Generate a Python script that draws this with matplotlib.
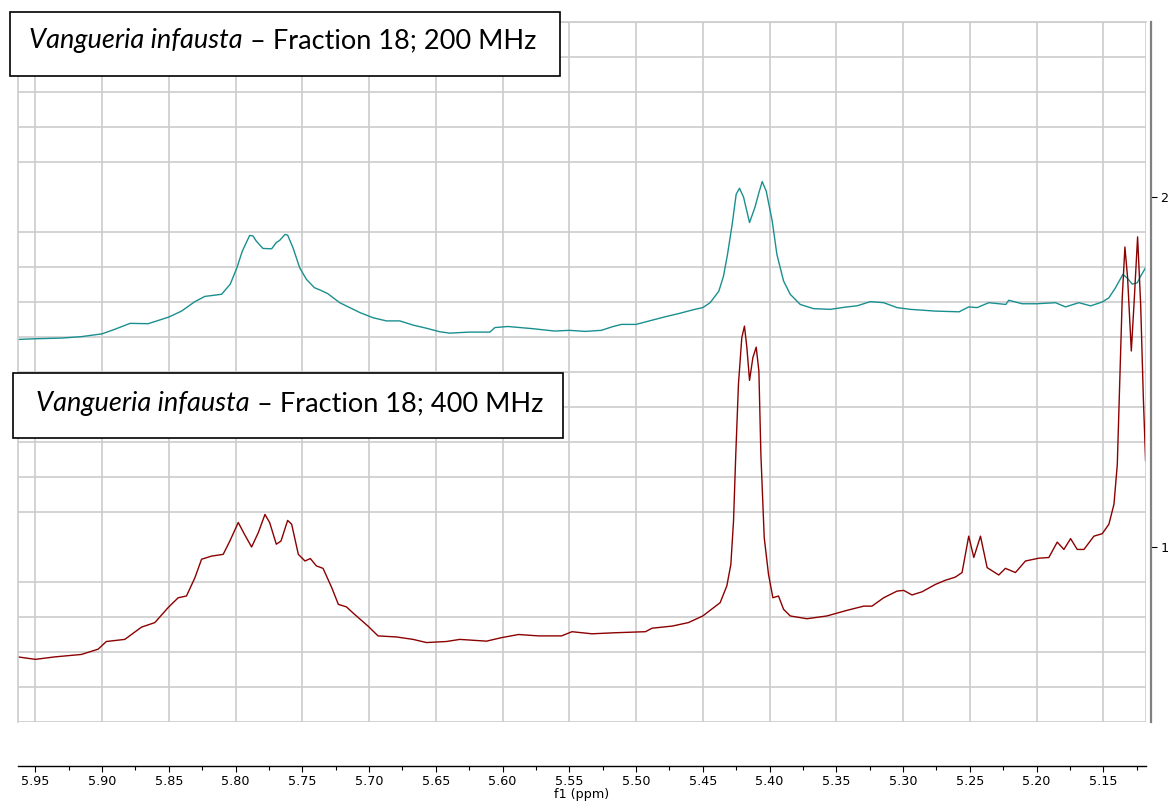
import matplotlib.pyplot as plt
from matplotlib.patches import Rectangle
from matplotlib.ticker import MultipleLocator, FixedLocator

# 200 MHz spectrum
ppm_200 = [5.963, 5.950, 5.940, 5.930, 5.9155, 5.900, 5.8905, 5.879, 5.8655, 5.850,
           5.8405, 5.8305, 5.823, 5.8105, 5.804, 5.799, 5.795, 5.7895, 5.787, 5.7845,
           5.7795, 5.773, 5.7695, 5.767, 5.763, 5.761, 5.757, 5.752, 5.747, 5.741,
           5.736, 5.731, 5.722, 5.7145, 5.707, 5.697, 5.687, 5.677, 5.667, 5.657,
           5.647, 5.6395, 5.625, 5.6095, 5.6057, 5.596, 5.578, 5.561, 5.550, 5.538,
           5.526, 5.518, 5.511, 5.500, 5.488, 5.478, 5.468, 5.456, 5.450, 5.4445,
           5.438, 5.4345, 5.4315, 5.428, 5.425, 5.4225, 5.4195, 5.415, 5.411, 5.408,
           5.4055, 5.4025, 5.398, 5.3945, 5.3895, 5.3845, 5.377, 5.367, 5.3545, 5.342,
           5.3345, 5.3245, 5.3145, 5.3045, 5.2945, 5.2758, 5.258, 5.2508, 5.2445, 5.2358,
           5.223, 5.2208, 5.2108, 5.200, 5.1858, 5.1783, 5.1683, 5.1595, 5.1508, 5.1458,
           5.1408, 5.1353, 5.132, 5.1283, 5.1245, 5.122, 5.1183]
int_200 = [1.593, 1.595, 1.596, 1.597, 1.601, 1.609, 1.622, 1.639, 1.638, 1.657,
           1.674, 1.701, 1.716, 1.722, 1.751, 1.798, 1.845, 1.890, 1.889, 1.874,
           1.853, 1.852, 1.870, 1.876, 1.893, 1.891, 1.855, 1.798, 1.765, 1.741,
           1.733, 1.724, 1.698, 1.684, 1.670, 1.655, 1.646, 1.646, 1.634, 1.625,
           1.615, 1.611, 1.614, 1.614, 1.627, 1.630, 1.624, 1.617, 1.619, 1.616,
           1.619, 1.629, 1.636, 1.636, 1.648, 1.658, 1.667, 1.679, 1.684, 1.698,
           1.731, 1.774, 1.836, 1.922, 2.008, 2.025, 2.000, 1.927, 1.970, 2.012,
           2.044, 2.017, 1.931, 1.836, 1.760, 1.722, 1.693, 1.681, 1.679, 1.686,
           1.689, 1.701, 1.698, 1.684, 1.679, 1.674, 1.672, 1.686, 1.684, 1.698,
           1.693, 1.705, 1.695, 1.695, 1.698, 1.686, 1.698, 1.689, 1.700, 1.712,
           1.741, 1.779, 1.768, 1.751, 1.755, 1.774, 1.798]

# 400 MHz spectrum
ppm_400 = [5.963, 5.950, 5.9355, 5.9155, 5.903, 5.8968, 5.883, 5.8705, 5.8605, 5.8505,
           5.843, 5.8368, 5.8305, 5.8255, 5.818, 5.8093, 5.8043, 5.798, 5.7933, 5.788,
           5.783, 5.778, 5.7745, 5.7695, 5.766, 5.761, 5.758, 5.753, 5.748, 5.744,
           5.7395, 5.7345, 5.728, 5.723, 5.717, 5.711, 5.7008, 5.6933, 5.6795, 5.667,
           5.657, 5.642, 5.632, 5.612, 5.6008, 5.588, 5.573, 5.5558, 5.548, 5.533,
           5.5158, 5.493, 5.488, 5.473, 5.4608, 5.450, 5.437, 5.432, 5.429, 5.427,
           5.4253, 5.4233, 5.4208, 5.4188, 5.417, 5.415, 5.4125, 5.410, 5.408, 5.4065,
           5.404, 5.4008, 5.3975, 5.3933, 5.3895, 5.3845, 5.372, 5.357, 5.342, 5.3295,
           5.3233, 5.3145, 5.3045, 5.2995, 5.2933, 5.2858, 5.2758, 5.2683, 5.2608, 5.2558,
           5.2508, 5.247, 5.242, 5.237, 5.2283, 5.2233, 5.2158, 5.2083, 5.1983, 5.1908,
           5.1845, 5.1795, 5.1745, 5.1695, 5.1645, 5.157, 5.1508, 5.1458, 5.142, 5.1395,
           5.1378, 5.1358, 5.1338, 5.1318, 5.129, 5.127, 5.1243, 5.122, 5.120, 5.1183]
int_400 = [0.686, 0.679, 0.686, 0.693, 0.708, 0.730, 0.736, 0.771, 0.784, 0.827,
           0.855, 0.860, 0.912, 0.965, 0.974, 0.979, 1.017, 1.070, 1.036, 1.000,
           1.041, 1.093, 1.070, 1.008, 1.017, 1.076, 1.065, 0.979, 0.960, 0.967,
           0.946, 0.939, 0.884, 0.836, 0.829, 0.808, 0.774, 0.746, 0.743, 0.736,
           0.727, 0.730, 0.736, 0.731, 0.741, 0.750, 0.746, 0.746, 0.758, 0.752,
           0.755, 0.758, 0.768, 0.774, 0.784, 0.803, 0.841, 0.889, 0.950, 1.074,
           1.265, 1.465, 1.598, 1.631, 1.570, 1.476, 1.541, 1.571, 1.503, 1.265,
           1.027, 0.922, 0.855, 0.860, 0.822, 0.803, 0.795, 0.803, 0.819, 0.831,
           0.831, 0.855, 0.874, 0.876, 0.863, 0.872, 0.893, 0.905, 0.914, 0.927,
           1.031, 0.970, 1.031, 0.941, 0.920, 0.939, 0.927, 0.960, 0.968, 0.970,
           1.014, 0.993, 1.024, 0.993, 0.993, 1.031, 1.038, 1.065, 1.122, 1.236,
           1.455, 1.712, 1.857, 1.770, 1.560, 1.693, 1.886, 1.693, 1.427, 1.246]

labels = ["200 MHz", "400 MHz"]

W, H = 1170, 805
fig = plt.figure(figsize=(W / 100, H / 100), dpi=100)
ax = fig.add_axes([18 / W, (H - 722) / H, 1128 / W, 700 / H])

ax.plot(ppm_200, int_200, color="#1a8f8f", lw=1.0)
ax.plot(ppm_400, int_400, color="#8b0000", lw=1.0)

ax.set_xlim(5.963, 5.118)
ax.set_ylim(0.5, 2.5)

# grid
grid_col = "#cccccc"
ax.xaxis.set_major_locator(MultipleLocator(0.05))
ax.xaxis.set_minor_locator(MultipleLocator(0.025))
ax.yaxis.set_major_locator(FixedLocator([1, 2]))
ax.yaxis.set_minor_locator(MultipleLocator(0.1))
ax.grid(True, which="major", axis="x", color=grid_col, lw=1.2)
ax.grid(True, which="minor", axis="y", color=grid_col, lw=1.2)
ax.axvline(5.118, color=grid_col, lw=1.2)
ax.set_axisbelow(True)

# x axis set apart below the frame
for s in ["left", "top"]:
    ax.spines[s].set_color(grid_col)
    ax.spines[s].set_linewidth(1.2)
ax.spines["bottom"].set_position(("outward", 31.5))
ax.spines["bottom"].set_linewidth(1.0)
ax.spines["right"].set_position(("outward", 3.5))
ax.spines["right"].set_color("#808080")
ax.spines["right"].set_linewidth(1.6)

ax.xaxis.set_major_formatter(plt.FuncFormatter(lambda v, p: f"{v:.2f}"))
ax.tick_params(axis="x", which="major", length=4.5, width=0.8, labelsize=9.2, pad=2)
ax.tick_params(axis="x", which="minor", length=3, width=0.8)
ax.yaxis.tick_right()
ax.tick_params(axis="y", which="major", length=4, width=0.8, labelsize=9.2, pad=3)
ax.tick_params(axis="y", which="minor", length=0)
ax.set_xlabel("f1 (ppm)", fontsize=9.2, labelpad=0)

# title boxes: italic species name followed by plain text
boxes = [(10, 12, 550, 64, 29, 48), (13, 373, 550, 65, 36, 411)]
renderer = fig.canvas.get_renderer()
for (bx, by, bw, bh, tx, ty), lab in zip(boxes, labels):
    fig.patches.append(Rectangle((bx / W, 1 - (by + bh) / H), bw / W, bh / H,
                                 transform=fig.transFigure, facecolor="white",
                                 edgecolor="black", lw=1.2, zorder=5))
    t1 = fig.text(tx / W, 1 - ty / H, "Vangueria infausta", fontsize=19.5,
                  family="Lato", style="italic", va="baseline", zorder=6)
    x_end = t1.get_window_extent(renderer).x1
    fig.text(x_end / W, 1 - ty / H, " \u2013 Fraction 18; " + lab, fontsize=19.5,
             family="Lato", va="baseline", zorder=6)

fig.savefig("out.png", dpi=100)
